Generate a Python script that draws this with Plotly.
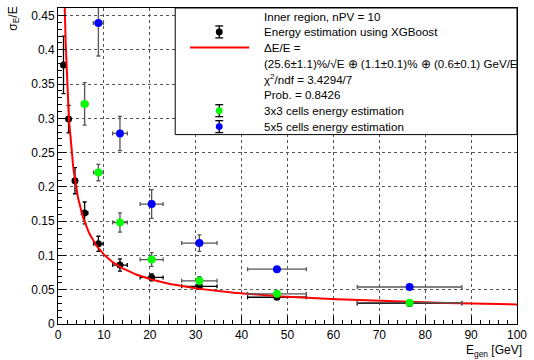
import numpy as np
import plotly.graph_objects as go

# ---------------- data ----------------
xgb_E = [1.2, 2.3, 3.7, 5.8, 8.8, 13.5, 20.4, 30.8, 47.7, 76.6]
xgb_res = [0.378, 0.299, 0.209, 0.162, 0.117, 0.086, 0.068, 0.055, 0.039, 0.030]
xgb_yerr = [0.042, 0.020, 0.019, 0.016, 0.011, 0.009, 0.005, 0.003, 0.002, 0.002]
xgb_xerr = [0.3, 0.4, 0.5, 0.7, 1.05, 1.6, 2.5, 3.85, 6.4, 11.4]

c3_E = [5.8, 8.8, 13.5, 20.4, 30.8, 47.7, 76.6]
c3_res = [0.321, 0.221, 0.148, 0.094, 0.063, 0.044, 0.031]
c3_yerr = [0.031, 0.012, 0.014, 0.010, 0.006, 0.003, 0.002]
c3_xerr = [0.7, 1.05, 1.6, 2.5, 3.85, 6.4, 11.4]

c5_E = [8.8, 13.5, 20.4, 30.8, 47.7, 76.6]
c5_res = [0.439, 0.278, 0.175, 0.118, 0.080, 0.054]
c5_yerr = [0.048, 0.025, 0.021, 0.012, 0.003, 0.002]
c5_xerr = [1.1, 1.6, 2.5, 3.85, 6.4, 11.4]

# fit parameters (stochastic, constant, noise)
fit_a = 0.256
fit_b = 0.011
fit_c = 0.6

y_ticks = [0, 0.05, 0.1, 0.15, 0.2, 0.25, 0.3, 0.35, 0.4, 0.45]
y_ticklabels = ["0", "0.05", "0.1", "0.15", "0.2", "0.25", "0.3", "0.35", "0.4", "0.45"]
x_ticks = [0, 10, 20, 30, 40, 50, 60, 70, 80, 90, 100]
x_ticklabels = ["0", "10", "20", "30", "40", "50", "60", "70", "80", "90", "100"]

legend_lines = [
    "Inner region, nPV = 10",
    "Energy estimation using XGBoost",
    "ΔE/E =",
    "(25.6±1.1)%/√E ⊕ (1.1±0.1)% ⊕ (0.6±0.1) GeV/E",
    "χ<sup>2</sup>/ndf = 3.4294/7",
    "Prob. = 0.8426",
    "3x3 cells energy estimation",
    "5x5 cells energy estimation",
]

# ---------------- figure ----------------
W, H = 534, 360
L, R, T, B = 58, 524, 7, 324
FONT = "Liberation Sans, Arial, Helvetica, sans-serif"

def px(x):
    return (x - L) / (R - L)

def py(y):
    return (B - y) / (B - T)

fit_E = np.linspace(1.0, 100, 600)
fit_y = np.sqrt((fit_a / np.sqrt(fit_E)) ** 2 + fit_b ** 2 + (fit_c / fit_E) ** 2)

fig = go.Figure()

def err_trace(x, y, xe, ye, color, ecolor, size):
    return go.Scatter(
        x=x, y=y, mode="markers",
        marker=dict(color=color, size=size, line=dict(width=0)),
        error_x=dict(type="data", array=xe, color=ecolor, thickness=1.3, width=2),
        error_y=dict(type="data", array=ye, color=ecolor, thickness=1.3, width=2),
        showlegend=False, hoverinfo="skip",
    )

fig.add_trace(err_trace(xgb_E, xgb_res, xgb_xerr, xgb_yerr, "black", "black", 7))
fig.add_trace(go.Scatter(x=fit_E, y=fit_y, mode="lines",
                         line=dict(color="#ff0000", width=2),
                         showlegend=False, hoverinfo="skip"))
fig.add_trace(err_trace(c3_E, c3_res, c3_xerr, c3_yerr, "#00ff00", "#555555", 8))
fig.add_trace(err_trace(c5_E, c5_res, c5_xerr, c5_yerr, "#0000ff", "#555555", 8))

axis_common = dict(
    showline=True, linecolor="black", linewidth=1, mirror=True,
    ticks="inside", tickcolor="black", ticklen=8, tickwidth=1,
    showgrid=True, gridcolor="#555555", griddash="dot", gridwidth=1,
    zeroline=False, ticklabeloverflow="allow",
    tickfont=dict(family=FONT, size=12, color="black"),
)

fig.update_layout(
    width=W, height=H,
    margin=dict(l=L, r=W - R, t=T, b=H - B),
    paper_bgcolor="white", plot_bgcolor="white",
    xaxis=dict(range=[0, 100.0001], tickvals=x_ticks, ticktext=x_ticklabels,
               minor=dict(dtick=2, ticklen=4, ticks="inside", tickcolor="black", showgrid=False),
               **axis_common),
    yaxis=dict(range=[0, 0.461], tickvals=y_ticks, ticktext=y_ticklabels,
               minor=dict(dtick=0.01, ticklen=4, ticks="inside", tickcolor="black", showgrid=False),
               **axis_common),
    font=dict(family=FONT, color="black"),
)

shapes = []
annotations = []

# legend box
shapes.append(dict(type="rect", xref="paper", yref="paper",
                   x0=px(177), x1=px(524), y0=py(134), y1=py(7),
                   fillcolor="white", line=dict(color="black", width=1), layer="above"))

line_y = [15.5, 31, 46.7, 62.5, 78.3, 94.2, 110, 126]
for txt, yy in zip(legend_lines, line_y):
    annotations.append(dict(text=txt, xref="paper", yref="paper",
                            x=px(265), y=py(yy), xanchor="left", yanchor="middle",
                            showarrow=False, font=dict(family=FONT, size=11.6, color="black")))

def legend_marker(yc, color, ecolor):
    cx = 221.7
    s = []
    s.append(dict(type="line", xref="paper", yref="paper", x0=px(cx), x1=px(cx),
                  y0=py(yc - 6), y1=py(yc + 6), line=dict(color=ecolor, width=1.3), layer="above"))
    for dy in (-6, 6):
        s.append(dict(type="line", xref="paper", yref="paper", x0=px(cx - 4), x1=px(cx + 4),
                      y0=py(yc + dy), y1=py(yc + dy), line=dict(color=ecolor, width=1.3), layer="above"))
    s.append(dict(type="circle", xref="paper", yref="paper", x0=px(cx - 3.5), x1=px(cx + 3.5),
                  y0=py(yc + 3.5), y1=py(yc - 3.5), fillcolor=color, line=dict(width=0), layer="above"))
    return s

shapes += legend_marker(31, "black", "black")
shapes.append(dict(type="line", xref="paper", yref="paper", x0=px(192), x1=px(252),
                   y0=py(46.7), y1=py(46.7), line=dict(color="#ff0000", width=2), layer="above"))
shapes += legend_marker(110, "#00ff00", "black")
shapes += legend_marker(126, "#0000ff", "black")

# axis titles
annotations.append(dict(text="σ<sub>E</sub>/E", xref="paper", yref="paper",
                        x=px(13), y=py(18), xanchor="center", yanchor="middle", textangle=-90,
                        showarrow=False, font=dict(family=FONT, size=12, color="black")))
annotations.append(dict(text="E<sub>gen</sub> [GeV]", xref="paper", yref="paper",
                        x=px(531), y=py(351), xanchor="right", yanchor="middle",
                        showarrow=False, font=dict(family=FONT, size=12, color="black")))

fig.update_layout(shapes=shapes, annotations=annotations)

fig.write_html("out.html", config={"displayModeBar": False},
               post_script="document.body.style.margin='0';document.body.style.padding='0';")
